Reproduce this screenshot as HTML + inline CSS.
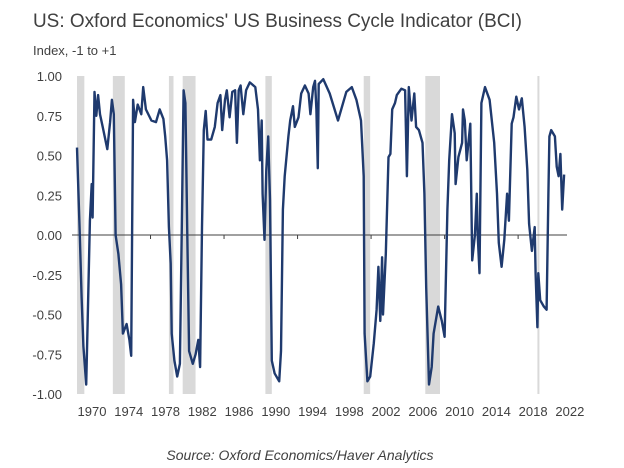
<!DOCTYPE html>
<html><head><meta charset="utf-8"><style>
body{margin:0;background:#fff;width:624px;height:468px;overflow:hidden}
svg{display:block}
text{font-family:"Liberation Sans",sans-serif}
</style></head><body>
<svg id="chart" width="624" height="468" viewBox="0 0 624 468" xmlns="http://www.w3.org/2000/svg">
<text x="33" y="27" font-size="19" fill="#404040" textLength="489" lengthAdjust="spacingAndGlyphs">US: Oxford Economics' US Business Cycle Indicator (BCI)</text>
<text x="33" y="55" font-size="13" fill="#404040">Index, -1 to +1</text>
<g id="bands"></g>
<g id="yaxis"></g>
<g id="xaxis"></g>
<path id="line" fill="none" stroke="#1f3a6e" stroke-width="2.4" stroke-linejoin="round"/>
<text x="300" y="460" font-size="14" font-style="italic" fill="#404040" text-anchor="middle">Source: Oxford Economics/Haver Analytics</text>
</svg>
<script>
const years=[1970.0,1970.3,1970.5,1970.7,1971.0,1971.15,1971.4,1971.6,1971.7,1971.9,1972.1,1972.3,1972.5,1972.8,1973.3,1973.6,1973.8,1974.0,1974.2,1974.5,1974.8,1975.0,1975.4,1975.7,1975.9,1976.1,1976.3,1976.6,1977.0,1977.2,1977.5,1978.1,1978.6,1979.0,1979.4,1979.6,1979.8,1980.0,1980.2,1980.3,1980.6,1980.9,1981.2,1981.4,1981.6,1981.8,1982.0,1982.2,1982.6,1982.9,1983.2,1983.4,1983.6,1983.8,1984.0,1984.2,1984.6,1985.0,1985.3,1985.6,1985.8,1986.1,1986.3,1986.6,1986.9,1987.2,1987.4,1987.6,1987.8,1988.1,1988.4,1988.8,1989.4,1989.7,1989.9,1990.1,1990.2,1990.4,1990.6,1990.8,1991.0,1991.2,1991.5,1992.0,1992.2,1992.4,1992.6,1993.0,1993.2,1993.5,1993.7,1994.1,1994.4,1994.8,1995.2,1995.4,1995.7,1995.9,1996.05,1996.2,1996.3,1996.8,1997.5,1998.4,1999.3,1999.9,2000.4,2000.9,2001.2,2001.3,2001.6,2001.9,2002.3,2002.6,2002.8,2003.0,2003.2,2003.3,2003.6,2003.9,2004.1,2004.3,2004.6,2004.8,2005.3,2005.7,2005.9,2006.1,2006.4,2006.7,2006.9,2007.2,2007.6,2007.8,2008.0,2008.3,2008.6,2008.8,2009.3,2009.7,2010.0,2010.3,2010.5,2010.8,2011.1,2011.2,2011.5,2011.9,2012.0,2012.2,2012.4,2012.8,2013.0,2013.3,2013.5,2013.6,2013.8,2014.0,2014.4,2014.9,2015.4,2015.7,2015.9,2016.2,2016.5,2016.8,2017.0,2017.3,2017.5,2017.8,2018.1,2018.4,2018.7,2019.0,2019.2,2019.5,2019.8,2019.9,2020.1,2020.2,2020.4,2020.8,2021.1,2021.3,2021.4,2021.6,2022.0,2022.2,2022.4,2022.6,2022.8,2023.0];
const values=[0.55,0,-0.39,-0.7,-0.94,-0.56,0.09,0.32,0.11,0.9,0.75,0.88,0.76,0.68,0.54,0.71,0.85,0.76,0,-0.12,-0.31,-0.62,-0.56,-0.66,-0.76,0.85,0.71,0.82,0.76,0.93,0.79,0.72,0.71,0.79,0.73,0.62,0.47,0.05,-0.18,-0.62,-0.79,-0.89,-0.81,0.05,0.91,0.83,0,-0.73,-0.81,-0.75,-0.66,-0.83,0.05,0.66,0.78,0.6,0.6,0.68,0.83,0.88,0.66,0.85,0.91,0.74,0.9,0.91,0.58,0.91,0.94,0.76,0.91,0.96,0.93,0.79,0.47,0.72,0.26,-0.03,0.41,0.62,0.22,-0.79,-0.87,-0.92,-0.73,0.16,0.37,0.62,0.72,0.81,0.68,0.74,0.89,0.94,0.89,0.76,0.93,0.97,0.79,0.42,0.95,0.98,0.89,0.72,0.9,0.93,0.85,0.72,0.37,-0.62,-0.92,-0.89,-0.68,-0.47,-0.2,-0.54,-0.14,-0.5,-0.12,0.49,0.51,0.79,0.83,0.88,0.92,0.91,0.37,0.93,0.72,0.89,0.68,0.66,0.58,0.26,-0.33,-0.94,-0.83,-0.62,-0.45,-0.54,-0.64,0.16,0.47,0.76,0.64,0.32,0.49,0.58,0.79,0.72,0.47,0.7,-0.16,0,0.26,0,-0.24,0.83,0.93,0.85,0.58,0.26,-0.05,-0.2,-0.03,0.26,0.09,0.7,0.74,0.87,0.79,0.86,0.68,0.41,0.07,-0.1,0.05,-0.24,-0.58,-0.24,-0.41,-0.45,-0.47,0.26,0.62,0.66,0.62,0.43,0.37,0.51,0.16,0.38];
const recessionStarts=[1970.0,1973.9,1980.0,1981.5,1990.5,2001.2,2007.9,2020.1];
const recessionEnds=[1970.8,1975.2,1980.5,1982.9,1991.2,2001.9,2009.5,2020.3];
const yTicks=[1,0.75,0.5,0.25,0,-0.25,-0.5,-0.75,-1];
const xTickLabels=[1970,1974,1978,1982,1986,1990,1994,1998,2002,2006,2010,2014,2018,2022];
const NS='http://www.w3.org/2000/svg';
const X=y=>77+(y-1970)*9.19;
const Y=v=>235-v*159;
function mk(tag,attrs,parent){const e=document.createElementNS(NS,tag);for(const k in attrs)e.setAttribute(k,attrs[k]);parent.appendChild(e);return e;}
const bands=document.getElementById('bands');
recessionStarts.forEach((s,i)=>{
  const r=mk('rect',{x:X(s),y:Y(1),width:Math.max(2,X(recessionEnds[i])-X(s)),height:Y(-1)-Y(1),fill:'#d9d9d9'},bands);
  
  
});
const ya=document.getElementById('yaxis');
yTicks.forEach(t=>{
  const tx=mk('text',{x:62,y:Y(t)+5,'font-size':13,fill:'#404040','text-anchor':'end'},ya);
  tx.textContent=t.toFixed(2);
  
  
});
const xa=document.getElementById('xaxis');
const zl=mk('line',{x1:72,x2:567,y1:Y(0),y2:Y(0),stroke:'#404040','stroke-width':1},xa);


xTickLabels.forEach(yr=>{
  const tx=mk('text',{x:X(yr)+15,y:416,'font-size':13,fill:'#404040','text-anchor':'middle'},xa);
  tx.textContent=yr;
  
  
});
[1978,1986,1994,2002,2010,2018].forEach(yr=>{
  const tk=mk('line',{x1:X(yr),x2:X(yr),y1:Y(0),y2:Y(0)+4,stroke:'#404040'},xa);
  
  
});
document.getElementById('line').setAttribute('d',years.map((y,i)=>(i?'L':'M')+X(y).toFixed(1)+','+Y(values[i]).toFixed(1)).join(''));
</script>
</body></html>
